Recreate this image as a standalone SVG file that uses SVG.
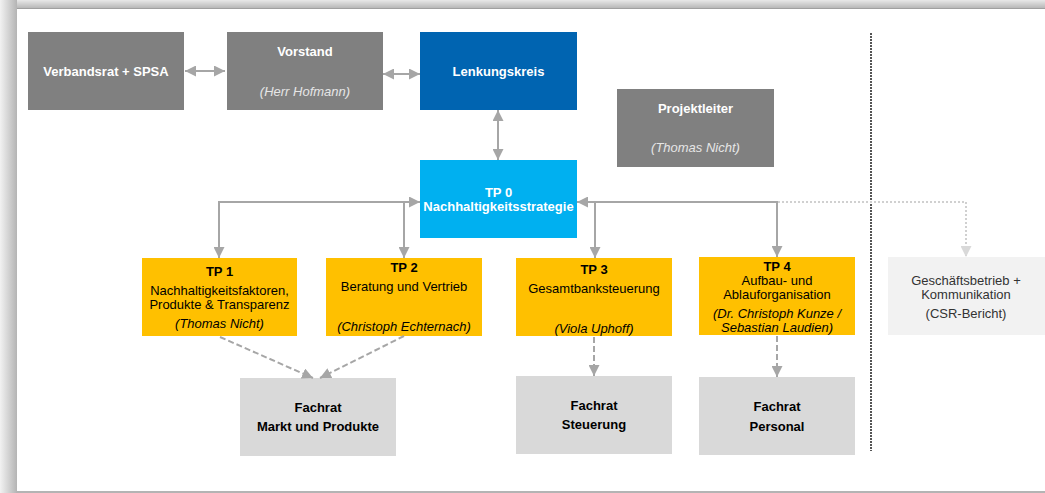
<svg xmlns="http://www.w3.org/2000/svg" width="1045" height="493" viewBox="0 0 1045 493">
<defs>
<linearGradient id="gl" x1="0" y1="0" x2="1" y2="0"><stop offset="0" stop-color="#f2f2f2"/><stop offset="1" stop-color="#b4b4b4"/></linearGradient>
<linearGradient id="gt" x1="0" y1="0" x2="0" y2="1"><stop offset="0" stop-color="#e8e8e8"/><stop offset="1" stop-color="#b8b8b8"/></linearGradient>
<marker id="ah" markerUnits="userSpaceOnUse" markerWidth="11" markerHeight="11" viewBox="0 0 10 10" refX="10" refY="5" orient="auto-start-reverse"><path d="M0,0 L10,5 L0,10 z" fill="#a6a6a6"/></marker>
<marker id="ahl" markerUnits="userSpaceOnUse" markerWidth="11" markerHeight="11" viewBox="0 0 10 10" refX="10" refY="5" orient="auto-start-reverse"><path d="M0,0 L10,5 L0,10 z" fill="#d9d9d9"/></marker>
</defs>
<style>
text{font-family:"Liberation Sans",Arial,sans-serif;font-size:13px;text-anchor:middle}
.b{font-weight:bold}
.i{font-style:italic}
.w{fill:#ffffff}
.lw{fill:#e6e6e6}
.k{fill:#000000}
.dk{fill:#333333}
.gray{fill:#808080}
.con{fill:none;stroke:#a6a6a6;stroke-width:2}
.dash{fill:none;stroke:#a6a6a6;stroke-width:2;stroke-dasharray:6 3}
.dot{fill:none;stroke:#d0d0d0;stroke-width:2;stroke-dasharray:2 2}
</style>
<rect x="0" y="0" width="1045" height="493" fill="#ffffff"/>
<rect x="0" y="0" width="17" height="493" fill="url(#gl)"/>
<rect x="17" y="0" width="1028" height="8" fill="url(#gt)"/>
<rect x="17" y="8" width="1028" height="1" fill="#a0a0a0"/>
<rect x="17" y="491" width="1028" height="2" fill="#b4b4b4"/>

<path d="M871,33 V451" fill="none" stroke="#555555" stroke-width="2" stroke-dasharray="2 1"/>

<g id="verbandsrat"><rect x="28" y="32" width="156" height="78" class="gray"/><text x="106" y="75.5" class="b w">Verbandsrat + SPSA</text></g>
<g id="vorstand"><rect x="227" y="32" width="156" height="78" class="gray"/><text x="305" y="56" class="b w">Vorstand</text><text x="305" y="95.5" class="i lw">(Herr Hofmann)</text></g>
<g id="lenkungskreis"><rect x="420" y="32" width="157" height="78" fill="#0064B1"/><text x="498.5" y="75.5" class="b w">Lenkungskreis</text></g>
<g id="projektleiter"><rect x="617" y="89" width="157" height="78" class="gray"/><text x="695.5" y="113" class="b w">Projektleiter</text><text x="695.5" y="151.5" class="i lw">(Thomas Nicht)</text></g>
<g id="tp0"><rect x="420" y="160" width="157" height="78" fill="#00B0F0"/><text x="498.5" y="197" class="b w">TP 0</text><text x="498.5" y="211" class="b w">Nachhaltigkeitsstrategie</text></g>
<g id="tp1"><rect x="142" y="258" width="155" height="78" fill="#FFC000"/><text x="219.5" y="276" class="b k">TP 1</text><text x="219.5" y="294.5" class="k">Nachhaltigkeitsfaktoren,</text><text x="219.5" y="308.5" class="k">Produkte &amp; Transparenz</text><text x="219.5" y="328" class="i k">(Thomas Nicht)</text></g>
<g id="tp2"><rect x="326" y="258" width="156" height="78" fill="#FFC000"/><text x="404" y="272" class="b k">TP 2</text><text x="404" y="291" class="k">Beratung und Vertrieb</text><text x="404" y="330.5" class="i k">(Christoph Echternach)</text></g>
<g id="tp3"><rect x="516" y="258" width="156" height="78" fill="#FFC000"/><text x="594" y="273.5" class="b k">TP 3</text><text x="594" y="293" class="k">Gesamtbanksteuerung</text><text x="594" y="333" class="i k">(Viola Uphoff)</text></g>
<g id="tp4"><rect x="699" y="257" width="156" height="78" fill="#FFC000"/><text x="777" y="270.5" class="b k">TP 4</text><text x="777" y="285" class="k">Aufbau- und</text><text x="777" y="299" class="k">Ablauforganisation</text><text x="777" y="318" class="i k">(Dr. Christoph Kunze /</text><text x="777" y="332" class="i k">Sebastian Laudien)</text></g>
<g id="geschaeftsbetrieb"><rect x="888" y="257" width="157" height="78" fill="#F2F2F2"/><text x="966" y="285" class="dk">Geschäftsbetrieb +</text><text x="966" y="299" class="dk">Kommunikation</text><text x="966" y="318" class="dk">(CSR-Bericht)</text></g>
<g id="fachrat-markt"><rect x="240" y="378" width="156" height="78" fill="#D9D9D9"/><text x="318" y="412" class="b k">Fachrat</text><text x="318" y="430.5" class="b k">Markt und Produkte</text></g>
<g id="fachrat-steuerung"><rect x="516" y="376" width="156" height="78" fill="#D9D9D9"/><text x="594" y="409.5" class="b k">Fachrat</text><text x="594" y="429" class="b k">Steuerung</text></g>
<g id="fachrat-personal"><rect x="699" y="377" width="156" height="78" fill="#D9D9D9"/><text x="777" y="411" class="b k">Fachrat</text><text x="777" y="431" class="b k">Personal</text></g>

<g id="connectors">
<path d="M185,71 H225" class="con" marker-start="url(#ah)" marker-end="url(#ah)"/>
<path d="M383,74 H420" class="con" marker-start="url(#ah)" marker-end="url(#ah)"/>
<path d="M498,110 V160" class="con" marker-start="url(#ah)" marker-end="url(#ah)"/>
<path d="M420,202 H219 V258" class="con" marker-start="url(#ah)" marker-end="url(#ah)"/>
<path d="M404,202 V258" class="con" marker-end="url(#ah)"/>
<path d="M577,202 H777 V257" class="con" marker-start="url(#ah)" marker-end="url(#ah)"/>
<path d="M595,202 V258" class="con" marker-end="url(#ah)"/>
<path d="M778,202 H966 V257" class="dot" marker-end="url(#ahl)"/>
<path d="M220,337 L313,378" class="dash" marker-end="url(#ah)"/>
<path d="M404,336 L320,378" class="dash" marker-end="url(#ah)"/>
<path d="M594,337 V376" class="dash" marker-end="url(#ah)"/>
<path d="M777,336 V377" class="dash" marker-end="url(#ah)"/>
</g>
</svg>
